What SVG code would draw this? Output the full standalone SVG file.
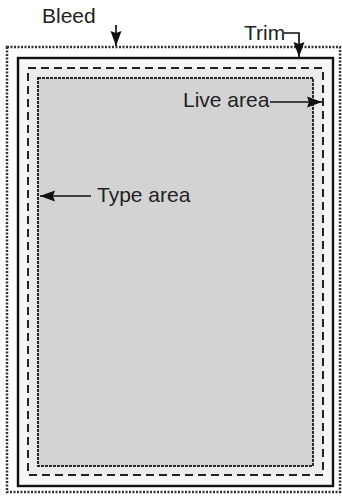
<svg xmlns="http://www.w3.org/2000/svg" width="342" height="497" viewBox="0 0 342 497">
<style>
.lbl{font-family:"Liberation Sans",Arial,sans-serif;font-size:21px;fill:#222}
.arr{stroke:#111;stroke-width:1.7;fill:none}
</style>
<defs>
<marker id="ah" markerWidth="16" markerHeight="12" refX="15" refY="6" orient="auto" markerUnits="userSpaceOnUse">
<path d="M0,0.5 L15,6 L0,11.5 L2,6 Z" fill="#111"/>
</marker>
</defs>
<rect width="342" height="497" fill="#fff"/>
<g id="bleed">
<rect x="7" y="47" width="333" height="445" fill="#fff" stroke="#333" stroke-width="2.5" stroke-dasharray="2,1.5"/>
</g>
<g id="trim">
<rect x="18" y="58" width="315" height="428" fill="#f6f6f6" stroke="#111" stroke-width="2.4"/>
</g>
<g id="live">
<rect x="28" y="68" width="295" height="407" fill="#ebebeb" stroke="#222" stroke-width="2" stroke-dasharray="8,5"/>
</g>
<g id="type">
<rect x="38" y="78" width="275" height="388" fill="#d3d3d3" stroke="#2a2a2a" stroke-width="2" stroke-dasharray="3,1"/>
</g>
<g id="labels">
<text class="lbl" x="42" y="23">Bleed</text>
<text class="lbl" x="244" y="40">Trim</text>
<text class="lbl" x="183" y="107">Live area</text>
<text class="lbl" x="97" y="202">Type area</text>
</g>
<g id="connectors">
<path class="arr" d="M116,25 V46" marker-end="url(#ah)"/>
<path class="arr" d="M284,33 H299 V57" marker-end="url(#ah)"/>
<path class="arr" d="M270,102 H322" marker-end="url(#ah)"/>
<path class="arr" d="M91,196 H40" marker-end="url(#ah)"/>
</g>
</svg>
